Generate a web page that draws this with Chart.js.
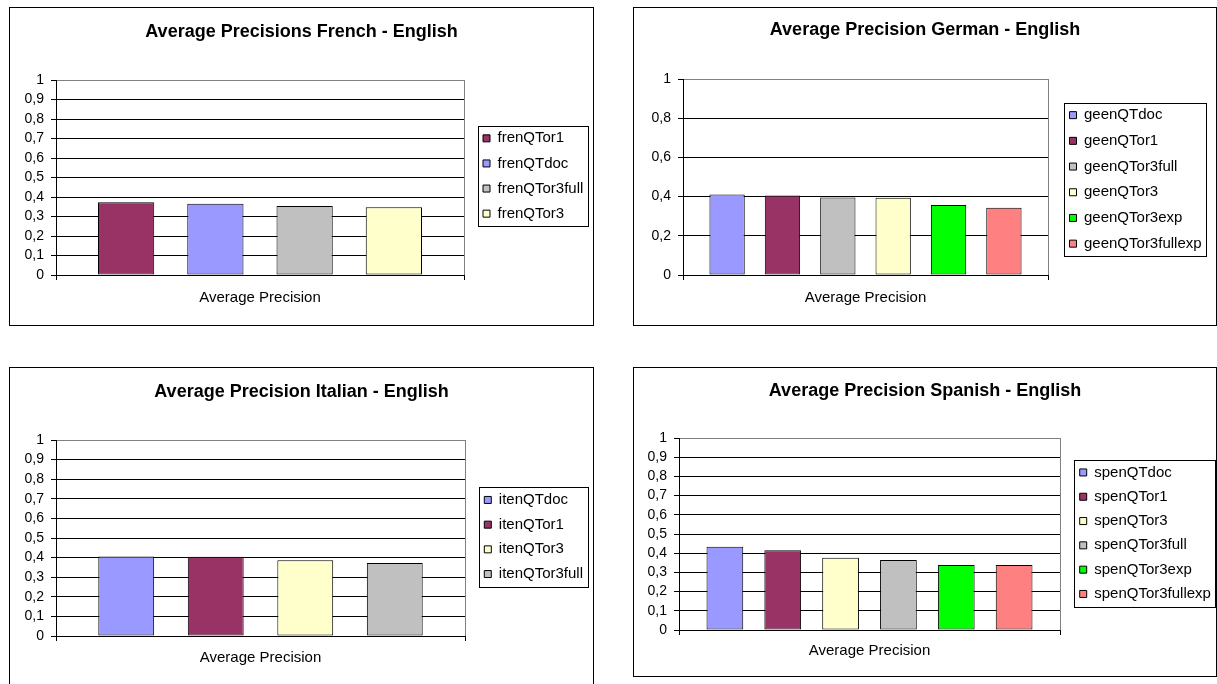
<!DOCTYPE html>
<html><head><meta charset="utf-8">
<script src="https://cdn.jsdelivr.net/npm/chart.js@4.4.1/dist/chart.umd.min.js"></script>
<style>
html,body{margin:0;padding:0;background:#fff;width:1217px;height:684px;overflow:hidden;position:relative;}
.box{position:absolute;border:1px solid #000;box-sizing:border-box;background:#fff;}
.box canvas{position:absolute;left:0;top:0;}
</style></head><body>
<div class="box" id="b1"><canvas id="c1"></canvas></div>
<div class="box" id="b2"><canvas id="c2"></canvas></div>
<div class="box" id="b3"><canvas id="c3"></canvas></div>
<div class="box" id="b4"><canvas id="c4"></canvas></div>
<script>
// ---------- data ----------
const category = ['Average Precision'];
const ticksTenths = ['0','0,1','0,2','0,3','0,4','0,5','0,6','0,7','0,8','0,9','1'];
const ticksFifths = ['0','0,2','0,4','0,6','0,8','1'];

const frenchTitle = 'Average Precisions French - English';
const frenchSeries = ['frenQTor1','frenQTdoc','frenQTor3full','frenQTor3'];
const frenchValues = [0.373, 0.365, 0.354, 0.347];

const germanTitle = 'Average Precision German - English';
const germanSeries = ['geenQTdoc','geenQTor1','geenQTor3full','geenQTor3','geenQTor3exp','geenQTor3fullexp'];
const germanValues = [0.411, 0.406, 0.395, 0.394, 0.357, 0.343];

const italianTitle = 'Average Precision Italian - English';
const italianSeries = ['itenQTdoc','itenQTor1','itenQTor3','itenQTor3full'];
const italianValues = [0.405, 0.404, 0.386, 0.373];

const spanishTitle = 'Average Precision Spanish - English';
const spanishSeries = ['spenQTdoc','spenQTor1','spenQTor3','spenQTor3full','spenQTor3exp','spenQTor3fullexp'];
const spanishValues = [0.434, 0.415, 0.376, 0.364, 0.339, 0.338];

// ---------- styles ----------
const PLUM = '#993366', BLUE = '#9999FF', SILVER = '#C0C0C0', CREAM = '#FFFFCC', GREEN = '#00FF00', SALMON = '#FF8080';
const frenchColors = [PLUM, BLUE, SILVER, CREAM];
const germanColors = [BLUE, PLUM, SILVER, CREAM, GREEN, SALMON];
const italianColors = [BLUE, PLUM, CREAM, SILVER];
const spanishColors = [BLUE, PLUM, CREAM, SILVER, GREEN, SALMON];

const FONT = "'Liberation Sans', Arial, Helvetica, sans-serif";
const TITLE_SIZE = 18, TICK_SIZE = 14, XLAB_SIZE = 15, LEG_SIZE = 15;

// layout (page pixel coordinates)
const layouts = {
  c1: {box:[9,7,585,319], area:{l:56,r:464,t:80,b:275}, titleY:31.7, xlabY:297.7, swatchX:483, spacing:25.1, legCenter:176, cat:0.875, bar:0.63},
  c2: {box:[633,7,584,319], area:{l:683,r:1048,t:79,b:275}, titleY:30, xlabY:297.7, swatchX:1069.5, spacing:25.7, legCenter:179.4, cat:0.91, bar:0.638},
  c3: {box:[9,367,585,330], area:{l:56,r:465,t:440,b:636}, titleY:391.7, xlabY:657.7, swatchX:484.3, spacing:24.7, legCenter:537, cat:0.8755, bar:0.624},
  c4: {box:[633,367,584,310], area:{l:679,r:1060,t:438,b:630}, titleY:391, xlabY:651, swatchX:1079.7, spacing:24.3, legCenter:533.2, cat:0.911, bar:0.635}
};

const excelLegend = {
  id: 'excelLegend',
  beforeLayout(chart, args, o) {
    const L = chart.legend;
    if (L && !L._patched) {
      const fit = L.fit.bind(L);
      L.fit = function () { fit(); this.width = o.width; };
      L._patched = true;
    }
  },
  afterLayout(chart, args, o) {
    const L = chart.legend;
    const pad = L.options.labels.padding;
    L.left = o.swatchX - pad;
    L.right = L.left + L.width;
    const ca = chart.chartArea;
    const dy = o.center - (ca.top + ca.bottom) / 2;
    L.top = ca.top + dy;
    L.bottom = ca.bottom + dy;
  },
  afterDraw(chart, args, o) {
    const hb = chart.legend.legendHitBoxes;
    if (!hb || !hb.length) return;
    const ctx = chart.ctx;
    let l = Infinity, r = -Infinity;
    hb.forEach(h => { l = Math.min(l, h.left); r = Math.max(r, h.left + h.width); });
    const first = hb[0], last = hb[hb.length - 1];
    const top = Math.round(first.top + first.height / 2 - 12.5);
    const bottom = Math.round(last.top + last.height / 2 + 12.7);
    const x0 = Math.round(l - 5.5), x1 = Math.round(r + 4.5);
    ctx.save();
    ctx.strokeStyle = '#000';
    ctx.lineWidth = 1;
    ctx.strokeRect(x0 + 0.5, top + 0.5, x1 - x0, bottom - top);
    ctx.restore();
  }
};

function makeChart(id, title, series, values, colors, tickLabels, step) {
  const g = layouts[id];
  const [bx, by, bw, bh] = g.box;
  const box = document.getElementById(id.replace('c', 'b'));
  box.style.left = bx + 'px'; box.style.top = by + 'px';
  box.style.width = bw + 'px'; box.style.height = bh + 'px';
  const cx = bx + 1, cy = by + 1, cw = bw - 2, ch = bh - 2;
  const canvas = document.getElementById(id);
  canvas.width = cw; canvas.height = ch;

  const tLine = TITLE_SIZE * 1.2;
  const tPadTop = (g.titleY - cy) - tLine / 2;
  const tPadBottom = (g.area.t - cy) - tPadTop - tLine;
  const xLine = XLAB_SIZE * 1.2;
  const xPad = g.xlabY - g.area.b - 5 - xLine / 2;

  return new Chart(canvas, {
    type: 'bar',
    data: {
      labels: category,
      datasets: series.map((name, i) => ({
        label: name,
        data: [values[i]],
        backgroundColor: colors[i],
        borderColor: '#000',
        borderWidth: 1,
        borderSkipped: false,
        categoryPercentage: g.cat,
        barPercentage: g.bar
      }))
    },
    options: {
      responsive: false,
      animation: false,
      events: [],
      layout: { padding: 0 },
      plugins: {
        tooltip: { enabled: false },
        title: {
          display: true, text: title, color: '#000',
          font: { family: FONT, size: TITLE_SIZE, weight: 'bold' },
          padding: { top: tPadTop, bottom: tPadBottom }
        },
        legend: {
          display: true, position: 'right', fullSize: false, align: 'center',
          labels: {
            color: '#000', font: { family: FONT, size: LEG_SIZE },
            boxWidth: 7, boxHeight: 7, padding: g.spacing - LEG_SIZE
          }
        },
        excelLegend: { width: (cx + cw) - g.area.r, swatchX: g.swatchX - cx, center: g.legCenter - cy }
      },
      scales: {
        x: {
          offset: true,
          grid: {
            display: true, offset: true, drawOnChartArea: true, drawTicks: true, tickLength: 5,
            color: c => c.index === 0 ? 'rgba(0,0,0,0)' : '#808080',
            tickColor: '#000', lineWidth: 1
          },
          border: { display: true, color: '#000', width: 1 },
          ticks: { color: '#000', font: { family: FONT, size: XLAB_SIZE }, padding: xPad, maxRotation: 0 },
          afterFit: s => { s.height = (cy + ch) - g.area.b; }
        },
        y: {
          min: 0, max: 1,
          grid: {
            color: c => (c.tick && Math.abs(c.tick.value - 1) < 1e-6) ? '#808080' : '#000',
            tickColor: '#000', tickLength: 5, lineWidth: 1, drawTicks: true
          },
          border: { display: true, color: '#000', width: 1 },
          ticks: {
            stepSize: step, autoSkip: false, color: '#000', padding: 7,
            font: { family: FONT, size: TICK_SIZE },
            callback: (v, i) => tickLabels[i]
          },
          afterFit: s => { s.width = g.area.l - cx; }
        }
      }
    },
    plugins: [excelLegend]
  });
}

makeChart('c1', frenchTitle, frenchSeries, frenchValues, frenchColors, ticksTenths, 0.1);
makeChart('c2', germanTitle, germanSeries, germanValues, germanColors, ticksFifths, 0.2);
makeChart('c3', italianTitle, italianSeries, italianValues, italianColors, ticksTenths, 0.1);
makeChart('c4', spanishTitle, spanishSeries, spanishValues, spanishColors, ticksTenths, 0.1);
</script>
</body></html>
